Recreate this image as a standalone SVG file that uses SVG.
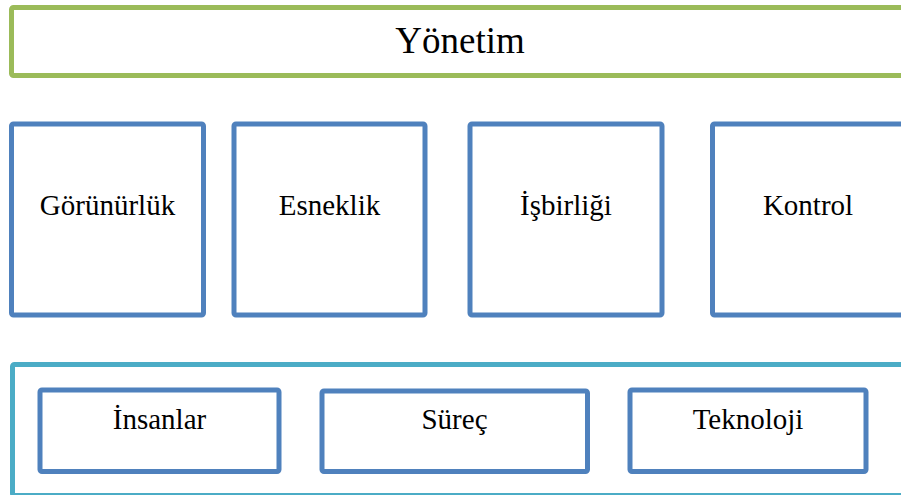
<svg xmlns="http://www.w3.org/2000/svg" width="901" height="495" viewBox="0 0 901 495">
  <style>
    .box { fill: #ffffff; stroke-width: 5; }
    .green { stroke: #9BBB59; }
    .blue { stroke: #4F81BD; }
    .cyan { stroke: #4BACC6; }
    .lbl { font-size: 29px; }
    .title { font-size: 37px; }
  </style>
  <rect width="901" height="495" fill="#ffffff"/>

  <g font-family="'Liberation Serif', Tinos, 'Nimbus Roman', 'Nimbus Roman No9 L', 'Times New Roman', Times, 'Noto Serif', 'DejaVu Serif', FreeSerif, serif" fill="#000000" text-anchor="middle">
    <!-- top layer -->
    <g id="yonetim">
      <rect class="box green" x="11.5" y="7.5" width="897" height="68" rx="2"/>
      <text class="title" x="460" y="53">Yönetim</text>
    </g>

    <!-- middle row -->
    <g id="gorunurluk">
      <rect class="box blue" x="11.5" y="124" width="192" height="191" rx="2"/>
      <text class="lbl" x="107.5" y="215">Görünürlük</text>
    </g>
    <g id="esneklik">
      <rect class="box blue" x="234" y="124" width="191" height="191" rx="2"/>
      <text class="lbl" x="329.5" y="215">Esneklik</text>
    </g>
    <g id="isbirligi">
      <rect class="box blue" x="470" y="124" width="192" height="191" rx="2"/>
      <text class="lbl" x="566" y="215">İşbirliği</text>
    </g>
    <g id="kontrol">
      <rect class="box blue" x="712.5" y="124" width="191" height="191" rx="2"/>
      <text class="lbl" x="808" y="215">Kontrol</text>
    </g>

    <!-- bottom layer -->
    <g id="temel">
      <rect class="box cyan" x="12.5" y="364.5" width="900" height="131" rx="2"/>
    </g>
    <g id="insanlar">
      <rect class="box blue" x="40" y="390" width="239" height="81.5" rx="2"/>
      <text class="lbl" x="159.5" y="429">İnsanlar</text>
    </g>
    <g id="surec">
      <rect class="box blue" x="322" y="391" width="265.5" height="80.5" rx="2"/>
      <text class="lbl" x="454.5" y="429">Süreç</text>
    </g>
    <g id="teknoloji">
      <rect class="box blue" x="630" y="390" width="236" height="81.5" rx="2"/>
      <text class="lbl" x="748" y="429">Teknoloji</text>
    </g>
  </g>

  <g id="connectors"/>
</svg>
